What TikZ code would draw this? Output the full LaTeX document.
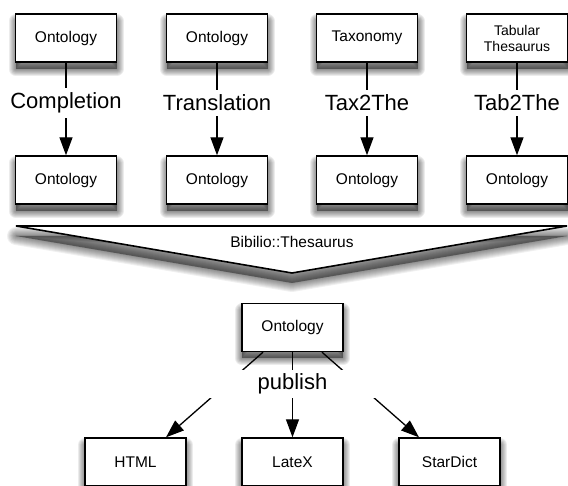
\documentclass[tikz,border=0pt]{standalone}
\usepackage{fontspec}
\setmainfont{Liberation Sans}
\usetikzlibrary{arrows.meta,calc}
\tikzset{
  shadstep/.style={preaction={draw=black,fill=black,opacity=0.075,line width=#1pt,line join=round,
      transform canvas={yshift=-7pt}}},
  shad/.style={shadstep/.list={2,4,6,8,10,12,14}},
  trishadstep/.style={preaction={draw=black,fill=black,opacity=0.06,line width=#1pt,line join=round,
      transform canvas={yshift=-10pt}}},
  trishad/.style={trishadstep/.list={2,4,6,8,10,12,14,16,18}},
  box/.style={draw,line width=1.4pt,fill=white,minimum width=101pt,minimum height=48pt,inner sep=0pt,
    font=\fontsize{15.5}{17}\selectfont,align=center,shad},
  lbl/.style={fill=white,inner xsep=2pt,inner ysep=4.5pt,font=\fontsize{22}{24}\selectfont},
  arr/.style={line width=1.3pt,-{Triangle[length=18pt,width=13pt,fill=black]}},
  tri/.style={draw,line width=1.6pt,fill=white,trishad},
}
\begin{document}
\begin{tikzpicture}[x=1pt,y=-1pt]
\useasboundingbox (0,0) rectangle (568,486);
% top row
\node[box] (t1) at (66,38) {Ontology};
\node[box] (t2) at (217,38) {Ontology};
\node[box] (t3) at (367,38) {Taxonomy};
\node[box,font=\fontsize{14}{16}\selectfont] (t4) at (517,38) {Tabular\\Thesaurus};
% second row
\node[box] (b1) at (66,180) {Ontology};
\node[box] (b2) at (217,180) {Ontology};
\node[box] (b3) at (367,180) {Ontology};
\node[box] (b4) at (517,180) {Ontology};
% arrows with labels
\draw[arr] (t1) -- (b1);
\draw[arr] (t2) -- (b2);
\draw[arr] (t3) -- (b3);
\draw[arr] (t4) -- (b4);
\node[lbl] (l1) at (66,103) {Completion};
\node[lbl] (l2) at (217,103) {Translation};
\node[lbl] (l3) at (367,103) {Tax2The};
\node[lbl] (l4) at (517,103) {Tab2The};
% funnel
\coordinate (fl) at (16,226);
\coordinate (fr) at (567,226);
\coordinate (fa) at (292,273);
\draw[tri,line join=miter] (fl) -- (fr) -- (fa) -- cycle;
\node[font=\fontsize{15.5}{17}\selectfont] (bt) at (292,242) {Bibilio::Thesaurus};
% middle
\node[box] (mid) at (292.5,327.5) {Ontology};
% bottom
\node[box] (html) at (135.5,462) {HTML};
\node[box] (latex) at (292.5,462) {LateX};
\node[box] (sd) at (449.5,462) {StarDict};
\draw[arr] ($(mid.south)+(-29.5,0)$) -- ($(html.north)+(30.5,0)$);
\draw[arr] (mid.south) -- (latex.north);
\draw[arr] ($(mid.south)+(29.5,0)$) -- ($(sd.north)+(-30.5,0)$);
\node[fill=white,minimum width=200pt,minimum height=28pt,inner sep=0pt,font=\fontsize{22}{24}\selectfont] (pub) at (292.5,384) {publish};
\end{tikzpicture}
\end{document}
